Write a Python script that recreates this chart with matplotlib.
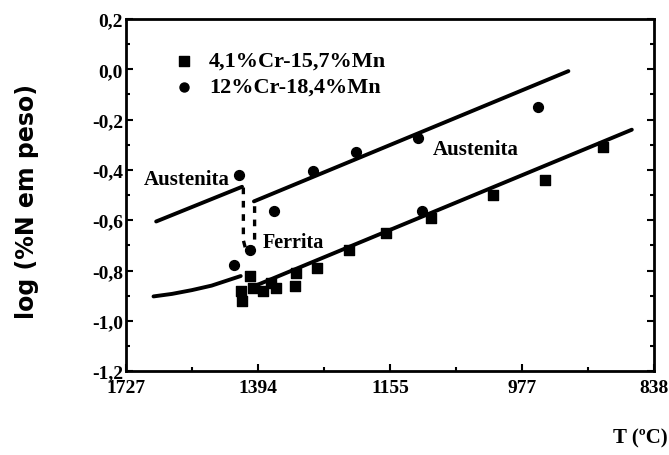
import matplotlib
matplotlib.use("Agg")
import matplotlib.pyplot as plt
from matplotlib.ticker import MultipleLocator

# x axis is 10^4 / T(K); labels show the temperature in Celsius
temp_labels = ["1727", "1394", "1155", "977", "838"]
temp_ticks = [5, 6, 7, 8, 9]
y_ticks = [0.2, 0.0, -0.2, -0.4, -0.6, -0.8, -1.0, -1.2]

# 4,1%Cr-15,7%Mn (squares)
sq_x = [5.87, 5.88, 5.94, 5.96, 6.04, 6.10, 6.14, 6.28, 6.29, 6.45, 6.69, 6.97, 7.31, 7.78, 8.17, 8.61]
sq_y = [-0.88, -0.92, -0.82, -0.87, -0.88, -0.85, -0.87, -0.86, -0.81, -0.79, -0.72, -0.65, -0.59, -0.50, -0.44, -0.31]

# 12%Cr-18,4%Mn (circles)
ci_x = [5.86, 5.82, 5.94, 6.12, 6.42, 6.74, 7.21, 7.24, 8.12]
ci_y = [-0.42, -0.78, -0.72, -0.565, -0.406, -0.33, -0.274, -0.565, -0.151]

# fitted lines
up_left_x, up_left_y = [5.23, 5.88], [-0.605, -0.467]
up_right_x, up_right_y = [5.97, 8.35], [-0.525, -0.007]
low_left_x = [5.21, 5.35, 5.5, 5.65, 5.87]
low_left_y = [-0.903, -0.893, -0.878, -0.860, -0.822]
low_right_x, low_right_y = [5.96, 8.83], [-0.865, -0.24]
ferr_x = [5.89, 5.89, 5.91, 5.95, 5.975, 5.975]
ferr_y = [-0.47, -0.68, -0.72, -0.72, -0.69, -0.53]

serif = "Liberation Serif"

fig = plt.figure(figsize=(6.69, 4.56), dpi=100)
ax = fig.add_axes([0.188, 0.184, 0.790, 0.772])

lw = 2.8
for xs, ys in [(up_left_x, up_left_y), (up_right_x, up_right_y),
               (low_left_x, low_left_y), (low_right_x, low_right_y)]:
    ax.plot(xs, ys, color="black", lw=lw, solid_capstyle="round")
ax.plot(ferr_x, ferr_y, color="black", lw=2.4, ls=(0, (2, 2)))

ax.scatter(sq_x, sq_y, marker="s", s=60, color="black", zorder=3)
ax.scatter(ci_x, ci_y, marker="o", s=50, color="black", zorder=3)

# legend drawn by hand
ax.scatter([5.44], [0.035], marker="s", s=50, color="black")
ax.scatter([5.44], [-0.07], marker="o", s=42, color="black")
ax.text(5.63, 0.035, "4,1%Cr-15,7%Mn", family=serif, fontweight="bold", fontsize=16, va="center")
ax.text(5.63, -0.07, "12%Cr-18,4%Mn", family=serif, fontweight="bold", fontsize=16, va="center")

ax.text(5.79, -0.437, "Austenita", family=serif, fontweight="bold", fontsize=15, ha="right", va="center")
ax.text(7.32, -0.318, "Austenita", family=serif, fontweight="bold", fontsize=15, ha="left", va="center")
ax.text(6.04, -0.685, "Ferrita", family=serif, fontweight="bold", fontsize=14.5, ha="left", va="center")

ax.set_xlim(5, 9)
ax.set_ylim(-1.2, 0.2)
ax.set_xticks(temp_ticks)
ax.set_xticklabels(temp_labels)
ax.xaxis.set_minor_locator(MultipleLocator(0.5))
ax.set_yticks(y_ticks)
ax.set_yticklabels([("%.1f" % v).replace(".", ",").replace("-0,0", "0,0") for v in y_ticks])
ax.yaxis.set_minor_locator(MultipleLocator(0.1))

ax.tick_params(which="both", direction="in", right=True, top=False, width=1.5)
ax.tick_params(which="major", length=5)
ax.tick_params(which="minor", length=3)
ax.tick_params(axis="x", pad=6)
ax.tick_params(axis="y", pad=2)
for lab in ax.get_xticklabels() + ax.get_yticklabels():
    lab.set_family(serif)
    lab.set_fontweight("bold")
    lab.set_fontsize(14)

for sp in ax.spines.values():
    sp.set_linewidth(2)

fig.text(27 / 669, 1 - 202 / 456, "log (%N em peso)", family="DejaVu Sans", fontweight="bold",
         fontsize=17, rotation=90, ha="center", va="center")
fig.text(0.998, 1 - 438 / 456, "T (ºC)", family=serif, fontweight="bold", fontsize=15,
         ha="right", va="center")

fig.savefig("out.png", dpi=100)
